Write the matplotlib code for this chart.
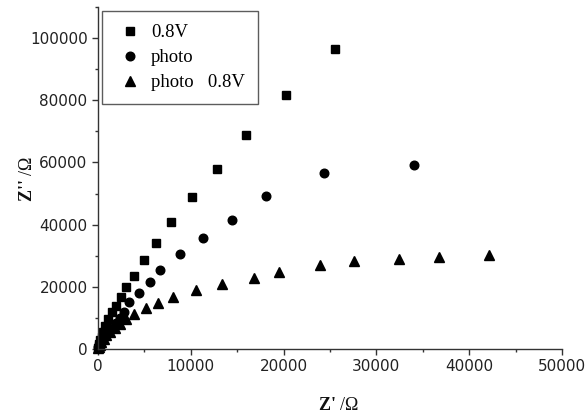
import matplotlib
matplotlib.use("Agg")
import matplotlib.pyplot as plt
from matplotlib.ticker import MultipleLocator

# Nyquist data: Z' (real) and Z'' (imaginary), in ohm
z_re_08v = [20, 60, 130, 240, 380, 560, 800, 1100, 1480, 1910, 2450, 3060,
            3850, 4960, 6250, 7870, 10130, 12790, 15990, 20300, 25580]
z_im_08v = [300, 900, 1700, 2800, 4000, 5600, 7500, 9500, 11900, 13780, 16760,
            19970, 23490, 28530, 34200, 40700, 48810, 57790, 68910, 81730, 96380]

z_re_photo = [40, 120, 250, 450, 700, 1050, 1450, 1900, 2400, 2840, 3340, 4420,
              5570, 6720, 8800, 11310, 14480, 18150, 24350, 34050]
z_im_photo = [500, 1200, 2000, 3000, 4100, 5400, 6800, 8300, 10000, 11960,
              14970, 18170, 21570, 25540, 30450, 35800, 41350, 49360, 56630, 59290]

z_re_photo_08v = [20, 70, 180, 350, 600, 900, 1300, 1800, 2400, 3060, 3880,
                  5140, 6510, 8120, 10530, 13360, 16780, 19470, 23890, 27550,
                  32400, 36710, 42130]
z_im_photo_08v = [200, 700, 1400, 2300, 3300, 4400, 5600, 6900, 8200, 9520,
                  11120, 13040, 14650, 16760, 18910, 20830, 22980, 24740, 26920,
                  28300, 28850, 29580, 30130]

series_labels = ["0.8V", "photo", "photo   0.8V"]

serif = "Liberation Serif"

fig = plt.figure(figsize=(5.87, 4.16), dpi=100)
ax = fig.add_axes([98 / 587, 1 - 349 / 416, 464 / 587, 342 / 416])

ax.plot(z_re_08v, z_im_08v, linestyle="none", marker="s", markersize=5.2,
        color="black", label=series_labels[0], clip_on=False)
ax.plot(z_re_photo, z_im_photo, linestyle="none", marker="o", markersize=6.2,
        color="black", label=series_labels[1], clip_on=False)
ax.plot(z_re_photo_08v, z_im_photo_08v, linestyle="none", marker="^",
        markersize=6.8, color="black", label=series_labels[2], clip_on=False)

ax.set_xlim(0, 50000)
ax.set_ylim(0, 110000)
ax.xaxis.set_major_locator(MultipleLocator(10000))
ax.xaxis.set_minor_locator(MultipleLocator(5000))
ax.yaxis.set_major_locator(MultipleLocator(20000))
ax.yaxis.set_minor_locator(MultipleLocator(10000))

for side in ("top", "right"):
    ax.spines[side].set_visible(False)
for side in ("left", "bottom"):
    ax.spines[side].set_color("#333333")
    ax.spines[side].set_linewidth(1.0)

ax.tick_params(which="major", direction="out", length=4.5, width=1.0,
               color="#333333", pad=3, labelsize=11, labelcolor="#222222")
ax.tick_params(which="minor", direction="out", length=2.5, width=1.0,
               color="#333333")
for lbl in ax.get_xticklabels() + ax.get_yticklabels():
    lbl.set_family("DejaVu Sans")

# Axis titles: bold symbol followed by a regular unit
label_kw = dict(transform=ax.transAxes, fontsize=13, family=serif,
                color="#111111", clip_on=False)
ax.text(0.5216, -0.164, "Z' ", ha="right", va="center", weight="bold",
        **label_kw)
ax.text(0.5216, -0.164, "/\u03a9", ha="left", va="center", **label_kw)
ax.text(-0.152, 0.509, "Z'' ", ha="center", va="top", rotation=90,
        weight="bold", **label_kw)
ax.text(-0.152, 0.509, "/\u03a9", ha="center", va="bottom", rotation=90,
        **label_kw)

leg = ax.legend(loc="upper left", bbox_to_anchor=(0.009, 0.988),
                borderaxespad=0, prop={"family": serif, "size": 13.5},
                frameon=True, fancybox=False, edgecolor="#333333",
                borderpad=0.7, handlelength=1.6, handletextpad=0.3,
                labelspacing=0.42, numpoints=1)
leg.get_frame().set_linewidth(1.0)

fig.savefig("out.png", dpi=100)
